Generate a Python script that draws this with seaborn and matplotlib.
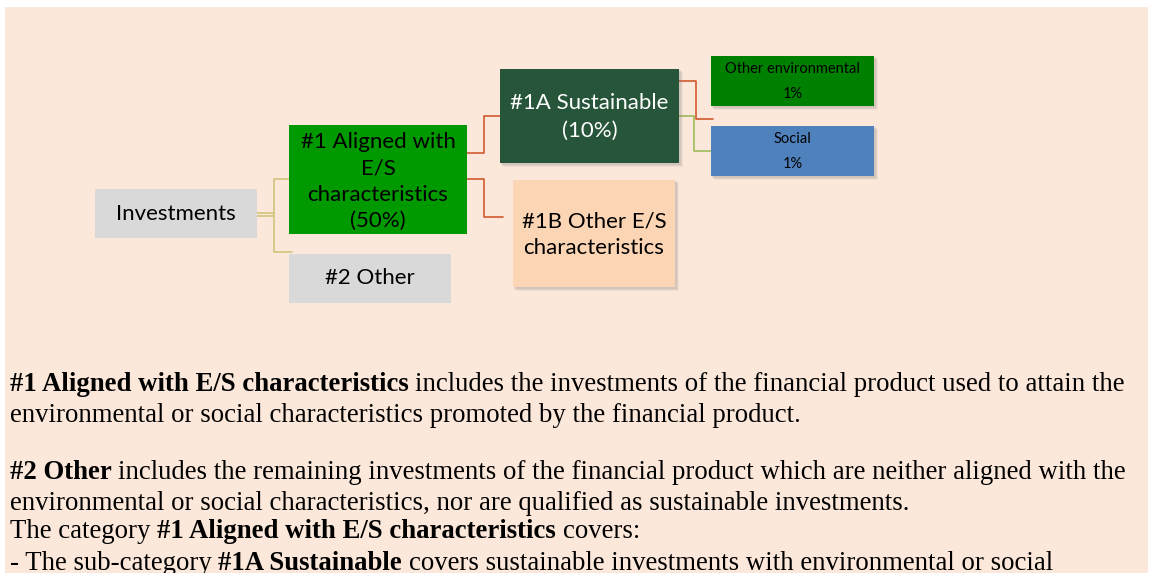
import matplotlib
matplotlib.use("Agg")
import matplotlib.pyplot as plt
import seaborn as sns
from matplotlib.patches import Rectangle

sns.set_theme(style="white")
plt.rcParams['font.family'] = ['Lato', 'DejaVu Sans']

# ---------------- data ----------------
node_labels = [
    "Investments",
    "#1 Aligned with\nE/S\ncharacteristics\n(50%)",
    "#2 Other",
    "#1A Sustainable\n(10%)",
    "#1B Other E/S\ncharacteristics",
    "Other environmental\n1%",
    "Social\n1%",
]
node_colors = ["#D9D9D9", "#009900", "#D9D9D9", "#26553A", "#FCD5B4", "#008000", "#4F81BD"]
node_text_colors = ["black", "black", "black", "white", "black", "black", "black"]

para_lines = [
    [("#1 Aligned with E/S characteristics", True), ("includes the investments of the financial product used to attain the", False)],
    [("environmental or social characteristics promoted by the financial product.", False)],
    [("#2 Other", True), ("includes the remaining investments of the financial product which are neither aligned with the", False)],
    [("environmental or social characteristics, nor are qualified as sustainable investments.", False)],
    [("The category", False), ("#1 Aligned with E/S characteristics", True), ("covers:", False)],
    [("- The sub-category", False), ("#1A Sustainable", True), ("covers sustainable investments with environmental or social", False)],
]

# ---------------- layout (pixels) ----------------
W, H = 1152, 573
boxes = [  # x0, y0, x1, y1
    (95, 189, 257, 238),
    (289, 125, 467, 234),
    (289, 254, 451, 303),
    (500, 69, 679, 163),
    (513, 180, 675, 287),
    (711, 56, 874, 106),
    (711, 126, 874, 176),
]
shadowed = [False, False, False, True, True, True, True]
font_sizes = [16, 16, 16, 16, 16, 10.5, 10.5]
line_spacings = [1.2, 1.38, 1.2, 1.48, 1.43, 2.07, 2.07]
text_dy = [0, 2, 0, 1, 1, 0.5, 0.5]

fig = plt.figure(figsize=(W / 100, H / 100), dpi=100, facecolor="white")
ax = fig.add_axes([0, 0, 1, 1])
ax.set_xlim(0, W)
ax.set_ylim(H, 0)
ax.axis("off")

# panel background
ax.add_patch(Rectangle((5, 7), 1143, 600, facecolor="#FCE8DA", edgecolor="none", zorder=0))

# connectors
olive = "#D3C47C"
red = "#D0582F"
green = "#9BBB59"
lw = 1.2
ax.plot([257, 274], [212.5, 212.5], color=olive, lw=lw, zorder=1)
ax.plot([257, 274], [215.5, 215.5], color=olive, lw=lw, zorder=1)
ax.plot([289, 274, 274, 292], [179, 179, 252, 252], color=olive, lw=lw, zorder=1)
ax.plot([467, 484, 484, 500], [153, 153, 116, 116], color=red, lw=lw, zorder=1)
ax.plot([467, 484, 484, 503], [179, 179, 217, 217], color=red, lw=lw, zorder=1)
ax.plot([679, 696, 696, 713], [81, 81, 119, 119], color=red, lw=lw, zorder=1)
ax.plot([679, 694, 694, 711], [116, 116, 151, 151], color=green, lw=lw, zorder=1)

# boxes
for (x0, y0, x1, y1), lab, fc, tc, sh, fs, ls, dy in zip(boxes, node_labels, node_colors,
                                                          node_text_colors, shadowed, font_sizes,
                                                          line_spacings, text_dy):
    if sh:
        for k, a in enumerate([0.10, 0.12, 0.15]):
            off = 4 - k
            ax.add_patch(Rectangle((x0 + off - 1, y0 + off - 1), x1 - x0 + 1, y1 - y0 + 1,
                                   facecolor="#7F7F7F", alpha=a, edgecolor="none", zorder=2))
    ax.add_patch(Rectangle((x0, y0), x1 - x0, y1 - y0, facecolor=fc, edgecolor="none", zorder=3))
    ax.text((x0 + x1) / 2, (y0 + y1) / 2 + dy, lab, ha="center", va="center", color=tc,
            fontsize=fs, linespacing=ls, zorder=4)

# paragraph text with mixed bold / regular runs
fig.canvas.draw()
renderer = fig.canvas.get_renderer()
serif = ["Liberation Serif", "DejaVu Serif"]
pfs = 19.3
space = 0.25 * pfs * 100 / 72
baselines = [391, 422, 479, 510, 538, 570]
for line, yb in zip(para_lines, baselines):
    x = 10
    for i, (seg, bold) in enumerate(line):
        if i > 0:
            x += space
        t = ax.text(x, yb, seg, ha="left", va="baseline", fontsize=pfs, family=serif,
                    fontweight="bold" if bold else "normal", color="black", zorder=5)
        bb = t.get_window_extent(renderer=renderer)
        x += bb.width

fig.savefig("out.png", dpi=100, facecolor="white")
